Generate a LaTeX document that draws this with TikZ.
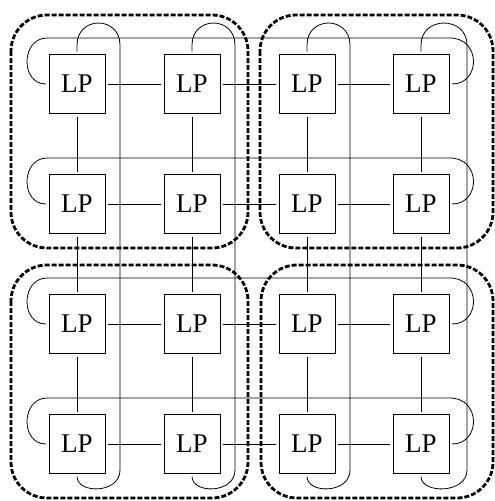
\documentclass[tikz,border=0pt]{standalone}
\usepackage{fontspec}
\setmainfont{Liberation Serif}
\begin{document}
\begin{tikzpicture}[x=1pt,y=-1pt,
  lp/.style={draw,line width=0.8pt,minimum width=56pt,minimum height=59pt,inner sep=0pt,outer sep=3pt,
    font=\fontsize{27}{27}\selectfont},
  link/.style={line width=0.8pt},
  group/.style={line width=2.8pt,dash pattern=on 5pt off 2pt,rounded corners=36pt}]
\useasboundingbox (0,0) rectangle (495,501);
% nodes
\foreach \r/\y in {1/84,2/204,3/324,4/444}{
  \foreach \c/\x in {1/77,2/192,3/307,4/421}{
    \node[lp] (b\r\c) at (\x,\y) {LP};
  }
}
% mesh links
\foreach \r in {1,2,3,4}{
  \draw[link] (b\r1) -- (b\r2);
  \draw[link] (b\r2) -- (b\r3);
  \draw[link] (b\r3) -- (b\r4);
}
\foreach \c in {1,2,3,4}{
  \draw[link] (b1\c) -- (b2\c);
  \draw[link] (b2\c) -- (b3\c);
  \draw[link] (b3\c) -- (b4\c);
}
% column wrap-around links
\foreach \c/\x/\w in {1/77/120,2/192/235,3/307/350,4/421/467}{
  \coordinate (cs\c) at (\x,45);
  \coordinate (ct\c) at (\w,45);
  \coordinate (cb\c) at (\w,470);
  \draw[link] (b1\c.north) -- (cs\c) .. controls +(0,-29.3) and +(0,-29.3) .. (ct\c)
     -- (cb\c) .. controls +(0,24) and +(0,17.5) .. (b4\c.south);
}
% row wrap-around links
\foreach \r/\t in {1/38,2/158,3/278,4/398}{
  \coordinate (hl\r) at (47,\t);
  \coordinate (hr\r) at (450,\t);
  \draw[link] (b\r1.west) .. controls +(-26,0) and +(-26,0) .. (hl\r)
     -- (hr\r) .. controls +(31,0) and +(29,0) .. (b\r4.east);
}
% cluster outlines
\draw[group] (11,15) rectangle (248,248);
\draw[group] (260,15) rectangle (493,248);
\draw[group] (11,265) rectangle (248,498);
\draw[group] (261,265) rectangle (493,498);
\end{tikzpicture}
\end{document}
